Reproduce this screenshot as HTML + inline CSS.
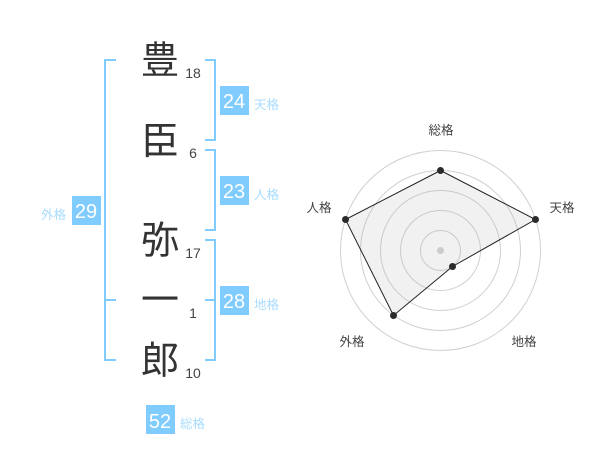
<!DOCTYPE html>
<html lang="ja">
<head>
<meta charset="utf-8">
<style>
html,body{margin:0;padding:0;background:#fff}
svg{display:block}
text{font-family:"Liberation Sans","WenQuanYi Zen Hei","Noto Sans CJK JP",sans-serif}
.k{font-size:38px;fill:#333;text-anchor:middle}
.n{font-size:14px;fill:#444;text-anchor:middle}
.b{font-size:20px;fill:#fff;text-anchor:middle}
.l{font-size:12.5px;fill:#a9dcff}
.r{font-size:12.5px;fill:#444;text-anchor:middle}
</style>
</head>
<body>
<svg width="600" height="470" viewBox="0 0 600 470" xmlns="http://www.w3.org/2000/svg">
<g fill="none" stroke="#80ccff" stroke-width="2">
<path d="M116 60H105V360H116M105 300H116"/>
<path d="M205 60H215V140H205"/>
<path d="M205 150H215V230H205"/>
<path d="M205 240H215V360H205M205 300H215"/>
</g>
<text class="k" x="160" y="73.5">豊</text>
<text class="k" x="160" y="154">臣</text>
<text class="k" x="160" y="253.5">弥</text>
<text class="k" x="160" y="313">一</text>
<text class="k" x="160" y="373.5">郎</text>
<text class="n" x="193" y="78">18</text>
<text class="n" x="193" y="158">6</text>
<text class="n" x="193" y="258">17</text>
<text class="n" x="193" y="318">1</text>
<text class="n" x="193" y="378">10</text>
<g fill="#80ccff">
<rect x="220" y="86" width="29" height="29"/>
<rect x="220" y="176" width="29" height="29"/>
<rect x="72" y="196" width="29" height="29"/>
<rect x="220" y="286" width="29" height="29"/>
<rect x="146" y="405" width="29" height="29"/>
</g>
<text class="b" x="234" y="108">24</text>
<text class="b" x="234" y="198">23</text>
<text class="b" x="86" y="218">29</text>
<text class="b" x="234" y="308">28</text>
<text class="b" x="160" y="428">52</text>
<text class="l" x="254" y="109">天格</text>
<text class="l" x="254" y="199">人格</text>
<text class="l" x="41" y="219">外格</text>
<text class="l" x="254" y="309">地格</text>
<text class="l" x="180" y="428">総格</text>
<g fill="none" stroke="#d0d0d0" stroke-width="1">
<circle cx="440.5" cy="250.5" r="100"/>
<circle cx="440.5" cy="250.5" r="80"/>
<circle cx="440.5" cy="250.5" r="60"/>
<circle cx="440.5" cy="250.5" r="40"/>
<circle cx="440.5" cy="250.5" r="20"/>
</g>
<polygon points="440.5,170.5 535.5,219.5 452.5,266.5 393.5,315.5 345.5,219.5" fill="#aaa" fill-opacity=".17" stroke="#222" stroke-width="1"/>
<circle cx="440.5" cy="250.5" r="3.5" fill="#ccc"/>
<g fill="#2b2b2b">
<circle cx="440.5" cy="170.5" r="3.5"/>
<circle cx="535.5" cy="219.5" r="3.5"/>
<circle cx="452.5" cy="266.5" r="3.5"/>
<circle cx="393.5" cy="315.5" r="3.5"/>
<circle cx="345.5" cy="219.5" r="3.5"/>
</g>
<text class="r" x="441" y="134.5">総格</text>
<text class="r" x="562" y="212">天格</text>
<text class="r" x="524" y="346">地格</text>
<text class="r" x="352" y="346">外格</text>
<text class="r" x="319" y="212">人格</text>
</svg>
</body>
</html>
